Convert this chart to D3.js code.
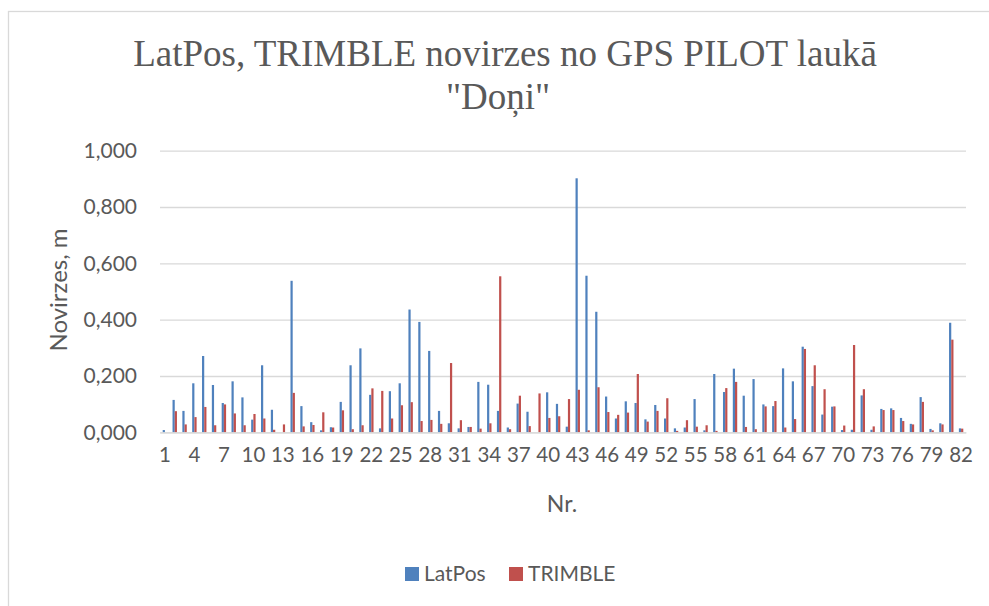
<!DOCTYPE html>
<html>
<head>
<meta charset="utf-8">
<script src="https://cdn.jsdelivr.net/npm/d3@7"></script>
<style>
	body { margin: 0; background: #fff; }
	text { fill: #595959; }
</style>
</head>
<body>
<div id="chart"></div>
<script>
var categories = d3.range(1, 83);
var seriesNames = ["LatPos", "TRIMBLE"];
var seriesColors = ["#4F81BD", "#C0504D"];

var latpos = [0.008, 0.115, 0.076, 0.174, 0.271, 0.168, 0.104, 0.181, 0.124, 0.045,
	0.238, 0.080, 0.000, 0.538, 0.093, 0.036, 0.007, 0.018, 0.108, 0.238,
	0.298, 0.133, 0.014, 0.146, 0.174, 0.436, 0.392, 0.289, 0.076, 0.032,
	0.014, 0.019, 0.179, 0.169, 0.076, 0.017, 0.102, 0.073, 0.000, 0.142,
	0.101, 0.020, 0.902, 0.556, 0.428, 0.127, 0.049, 0.110, 0.104, 0.046,
	0.097, 0.049, 0.014, 0.017, 0.118, 0.007, 0.207, 0.143, 0.226, 0.130,
	0.189, 0.099, 0.093, 0.227, 0.181, 0.304, 0.164, 0.063, 0.091, 0.008,
	0.009, 0.131, 0.009, 0.083, 0.085, 0.051, 0.030, 0.125, 0.012, 0.032,
	0.389, 0.014];

var trimble = [0.000, 0.075, 0.028, 0.054, 0.090, 0.025, 0.099, 0.067, 0.025, 0.065,
	0.049, 0.009, 0.028, 0.140, 0.021, 0.026, 0.071, 0.017, 0.078, 0.011,
	0.025, 0.156, 0.147, 0.049, 0.096, 0.107, 0.040, 0.044, 0.030, 0.246,
	0.043, 0.019, 0.013, 0.032, 0.554, 0.011, 0.130, 0.022, 0.138, 0.051,
	0.057, 0.118, 0.151, 0.007, 0.160, 0.072, 0.062, 0.070, 0.207, 0.038,
	0.076, 0.121, 0.005, 0.043, 0.020, 0.025, 0.005, 0.157, 0.179, 0.019,
	0.011, 0.092, 0.111, 0.017, 0.047, 0.296, 0.238, 0.153, 0.092, 0.024,
	0.310, 0.153, 0.021, 0.079, 0.079, 0.040, 0.028, 0.108, 0.007, 0.028,
	0.329, 0.013];

var yTicks = [0, 0.2, 0.4, 0.6, 0.8, 1.0];
var xTickLabels = d3.range(1, 83, 3);

var width = 989, height = 606
	, plot = {left: 160, right: 966, top: 150.7, bottom: 432.3};

var svg = d3.select("#chart").append("svg")
	.attr("width", width)
	.attr("height", height);

// chart area border (right/bottom edges fall outside the picture)
svg.append("rect")
	.attr("x", 8.5).attr("y", 11.5)
	.attr("width", 1000).attr("height", 700)
	.attr("fill", "none")
	.attr("stroke", "#D9D9D9")
	.attr("stroke-width", 1.3);

var x = d3.scaleBand()
	.domain(categories)
	.range([plot.left, plot.right])
	.paddingInner(0.55)
	.paddingOuter(0.275);

var xSub = d3.scaleBand()
	.domain(seriesNames)
	.range([0, x.bandwidth()]);

var y = d3.scaleLinear()
	.domain([0, 1])
	.range([plot.bottom, plot.top]);

var fmt = function(d) { return d3.format(".3f")(d).replace(".", ","); };

// --- GRID + Y AXIS --- \\
var yAxis = d3.axisLeft(y)
	.tickValues(yTicks)
	.tickSize(-(plot.right - plot.left))
	.tickPadding(23)
	.tickFormat(fmt);

var gy = svg.append("g")
	.attr("transform", "translate(" + plot.left + ",0)")
	.call(yAxis);
gy.select(".domain").remove();
gy.selectAll(".tick line")
	.attr("stroke", "#D9D9D9")
	.attr("stroke-width", 1.3);
gy.selectAll(".tick text")
	.attr("font-family", "Lato")
	.attr("font-size", 21)
	.attr("fill", "#595959");

// --- BARS --- \\
var rows = categories.map(function(c, i) {
	return {cat: c, vals: [latpos[i], trimble[i]]};
});

var group = svg.append("g").selectAll("g")
	.data(rows)
	.join("g")
	.attr("transform", function(d) { return "translate(" + x(d.cat) + ",0)"; });

group.selectAll("rect")
	.data(function(d) { return d.vals.map(function(v, j) { return {name: seriesNames[j], v: v, j: j}; }); })
	.join("rect")
	.attr("x", function(d) { return xSub(d.name); })
	.attr("width", xSub.bandwidth())
	.attr("y", function(d) { return y(d.v); })
	.attr("height", function(d) { return y(0) - y(d.v); })
	.attr("fill", function(d) { return seriesColors[d.j]; });

// --- X AXIS --- \\
var xAxis = d3.axisBottom(x)
	.tickValues(xTickLabels)
	.tickSize(0)
	.tickPadding(15);

var gx = svg.append("g")
	.attr("transform", "translate(0," + plot.bottom + ")")
	.call(xAxis);
gx.select(".domain")
	.attr("stroke", "#D9D9D9")
	.attr("stroke-width", 1.3);
gx.selectAll(".tick text")
	.attr("font-family", "Lato")
	.attr("font-size", 20.5)
	.attr("fill", "#595959");

// --- TITLES --- \\
svg.append("text")
	.attr("x", 505).attr("y", 66)
	.attr("text-anchor", "middle")
	.attr("font-family", "Liberation Serif")
	.attr("font-size", 37)
	.text("LatPos, TRIMBLE novirzes no GPS PILOT laukā");

svg.append("text")
	.attr("x", 498).attr("y", 109)
	.attr("text-anchor", "middle")
	.attr("font-family", "Liberation Serif")
	.attr("font-size", 37)
	.text("\"Doņi\"");

svg.append("text")
	.attr("transform", "translate(67,290) rotate(-90)")
	.attr("text-anchor", "middle")
	.attr("font-family", "Lato")
	.attr("font-size", 24)
	.text("Novirzes, m");

svg.append("text")
	.attr("x", 562).attr("y", 512)
	.attr("text-anchor", "middle")
	.attr("font-family", "Lato")
	.attr("font-size", 23)
	.text("Nr.");

// --- LEGEND --- \\
var legendX = [405, 509];
var legend = svg.append("g").selectAll("g")
	.data(seriesNames)
	.join("g")
	.attr("transform", function(d, i) { return "translate(" + legendX[i] + ",567)"; });

legend.append("rect")
	.attr("width", 14).attr("height", 14)
	.attr("fill", function(d, i) { return seriesColors[i]; });

legend.append("text")
	.attr("x", 19).attr("y", 14)
	.attr("font-family", "Lato")
	.attr("font-size", 21)
	.text(function(d) { return d; });
</script>
</body>
</html>
